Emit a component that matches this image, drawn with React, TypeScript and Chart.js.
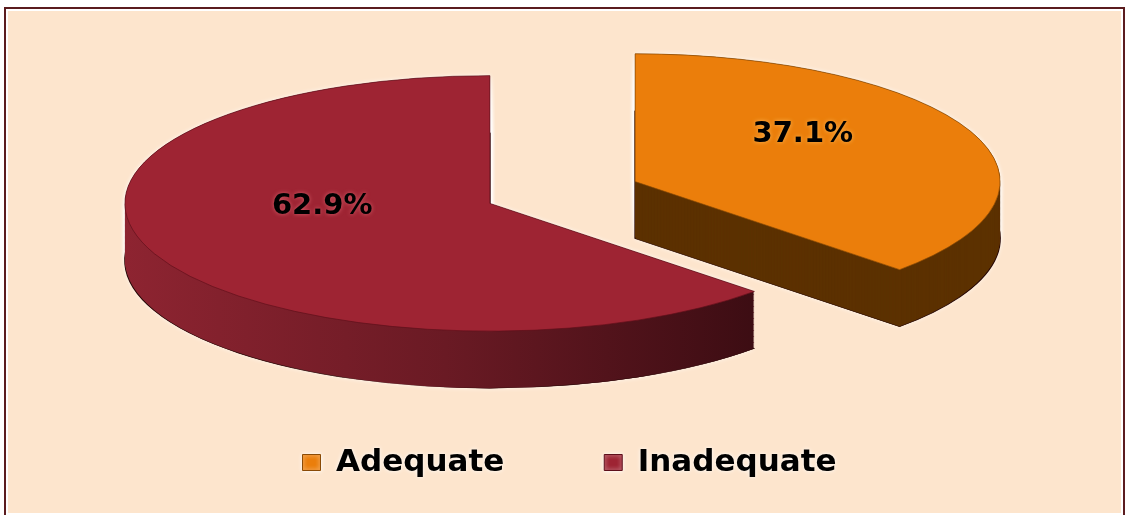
import React, { useEffect, useRef } from 'react';
import { Chart, registerables } from 'chart.js';

Chart.register(...registerables);

// ---- data ----
const categories = ['Adequate', 'Inadequate'];
const values = [37.1, 62.9];
const valueLabels = ['37.1%', '62.9%'];

// ---- styles ----
const topColors = ['#EB7E0B', '#9E2433'];
const borderColors = ['#8A4A05', '#5E0F1A'];
const sideColors = ['#5C3100', '#7A1E2A'];
const sideGradients: (string[] | null)[] = [null, ['#8E2431', '#6A1A24', '#3A0C12']];
const labelGlows = ['rgba(255,190,90,0.9)', 'rgba(230,110,120,0.8)'];
const explode = [79, 79];

const W = 1125;
const H = 515;
const PIE_CX = 562.5;
const PIE_CY = 192.5;
const RADIUS = 365;
const TILT = 0.35;
const DEPTH = 57;
const LABEL_DY = -22;

function withOptions(el: any, opts: any, ctx: CanvasRenderingContext2D) {
  const saved = el.options;
  el.options = Object.assign({}, saved, opts);
  el.draw(ctx);
  el.options = saved;
}

function place(ctx: CanvasRenderingContext2D, el: any, i: number, dy: number) {
  const half = (el.startAngle + el.endAngle) / 2;
  ctx.translate(PIE_CX, PIE_CY + dy);
  ctx.scale(1, TILT);
  ctx.translate(Math.cos(half) * explode[i] - el.x, Math.sin(half) * explode[i] - el.y);
}

const pie3d = {
  id: 'pie3d',
  beforeDraw(chart: any) {
    const ctx = chart.ctx as CanvasRenderingContext2D;
    ctx.save();
    ctx.shadowColor = 'rgba(255,255,255,0.95)';
    ctx.shadowBlur = 4;
  },
  beforeDatasetsDraw(chart: any) {
    const ctx = chart.ctx as CanvasRenderingContext2D;
    ctx.restore();
    const arcs = chart.getDatasetMeta(0).data as any[];
    const order = [0, 1];

    // glow pass
    ctx.save();
    ctx.shadowColor = 'rgba(255,255,255,0.8)';
    ctx.shadowBlur = 5;
    for (const i of order) {
      const el = arcs[i];
      for (let dy = DEPTH; dy >= 0; dy -= 6) {
        ctx.save();
        place(ctx, el, i, dy);
        withOptions(el, { backgroundColor: sideColors[i], borderWidth: 0 }, ctx);
        ctx.restore();
      }
      ctx.save();
      place(ctx, el, i, 0);
      withOptions(el, { backgroundColor: sideColors[i], borderWidth: 0 }, ctx);
      ctx.restore();
    }
    ctx.restore();

    // sides + tops
    for (const i of order) {
      const el = arcs[i];
      const half = (el.startAngle + el.endAngle) / 2;
      const ex = Math.cos(half) * explode[i];
      let fill: any = sideColors[i];
      const g = sideGradients[i];
      if (g) {
        const shift = PIE_CX + ex - el.x;
        const grad = ctx.createLinearGradient(120 - shift, 0, 770 - shift, 0);
        g.forEach((c, k) => grad.addColorStop(k / (g.length - 1), c));
        fill = grad;
      }
      for (let dy = DEPTH; dy >= 1; dy--) {
        ctx.save();
        place(ctx, el, i, dy);
        withOptions(el, { backgroundColor: fill, borderWidth: dy === DEPTH ? 1.5 : 0, borderColor: '#2a0a08' }, ctx);
        ctx.restore();
      }
      ctx.save();
      place(ctx, el, i, 0);
      el.draw(ctx);
      ctx.restore();
    }

    // value labels
    ctx.save();
    ctx.font = 'bold 29px "DejaVu Sans"';
    ctx.textAlign = 'center';
    ctx.textBaseline = 'middle';
    ctx.fillStyle = '#000';
    for (const i of order) {
      const el = arcs[i];
      const half = (el.startAngle + el.endAngle) / 2;
      const p = el.getCenterPoint();
      const sx = PIE_CX + p.x + Math.cos(half) * explode[i] - el.x;
      const sy = PIE_CY + TILT * (p.y + Math.sin(half) * explode[i] - el.y) + LABEL_DY;
      ctx.shadowColor = labelGlows[i];
      ctx.shadowBlur = 4;
      ctx.fillText(valueLabels[i], sx, sy);
    }
    ctx.restore();
    return false;
  },
};

export default function App() {
  const ref = useRef<HTMLCanvasElement>(null);
  useEffect(() => {
    const chart = new Chart(ref.current as HTMLCanvasElement, {
      type: 'pie',
      data: {
        labels: categories,
        datasets: [
          {
            data: values,
            backgroundColor: topColors,
            borderColor: borderColors,
            borderWidth: 1,
            offset: 0,
            hoverOffset: 0,
          } as any,
        ],
      },
      options: {
        responsive: false,
        animation: false,
        devicePixelRatio: 1,
        radius: RADIUS,
        events: [],
        layout: { padding: { left: 14, bottom: 27 } },
        plugins: {
          legend: {
            position: 'bottom',
            labels: {
              font: { family: '"DejaVu Sans"', weight: 'bold', size: 31 },
              color: '#000',
              boxWidth: 18,
              boxHeight: 16,
              padding: 100,
            },
          },
          tooltip: { enabled: false },
        },
      } as any,
      plugins: [pie3d as any],
    });
    return () => chart.destroy();
  }, []);

  return (
    <div style={{ position: 'fixed', left: 0, top: 0, width: W, height: H, overflow: 'hidden', background: '#fff' }}>
      <div
        style={{
          position: 'absolute',
          left: 4,
          top: 7,
          width: 1121,
          height: 510,
          boxSizing: 'border-box',
          border: '2px solid #5B1C1F',
          boxShadow: 'inset 0 0 0 2px #ffffff',
          background: '#FDE5CD',
        }}
      />
      <canvas ref={ref} width={W} height={H} style={{ position: 'absolute', left: 0, top: 0, width: W, height: H }} />
    </div>
  );
}
